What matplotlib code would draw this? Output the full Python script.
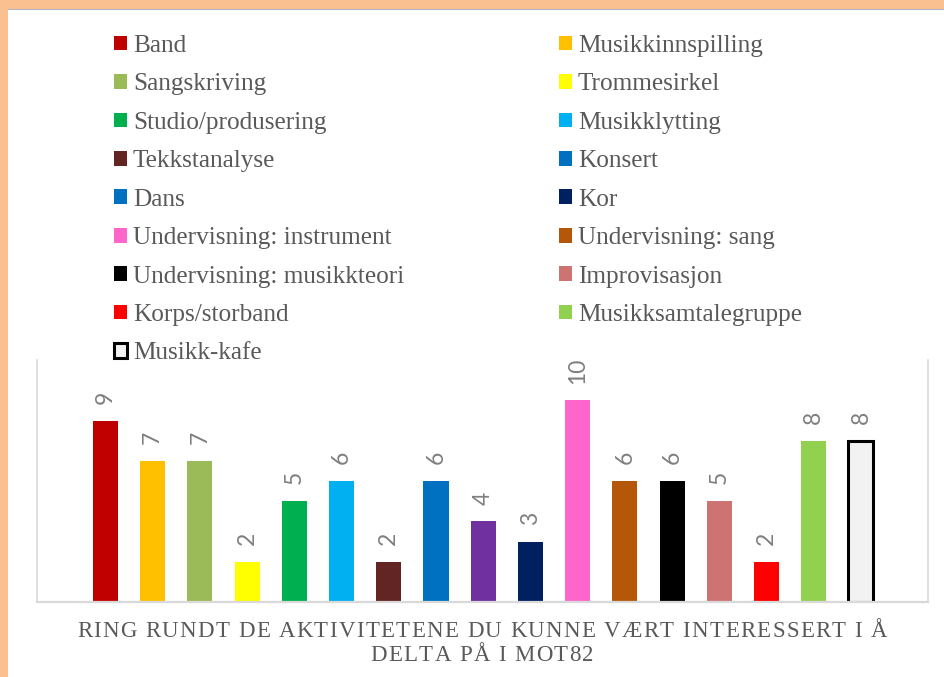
import matplotlib
matplotlib.use("Agg")
import matplotlib.pyplot as plt
from matplotlib.patches import Patch, Rectangle
from matplotlib.font_manager import FontProperties

# data
categories = ["Band", "Musikkinnspilling", "Sangskriving", "Trommesirkel",
              "Studio/produsering", "Musikklytting", "Tekkstanalyse", "Konsert",
              "Dans", "Kor", "Undervisning: instrument", "Undervisning: sang",
              "Undervisning: musikkteori", "Improvisasjon", "Korps/storband",
              "Musikksamtalegruppe", "Musikk-kafe"]
values = [9, 7, 7, 2, 5, 6, 2, 6, 4, 3, 10, 6, 6, 5, 2, 8, 8]
bar_colors = ["#C00000", "#FFC000", "#9BBB59", "#FFFF00", "#00B050", "#00B0F0",
              "#632523", "#0070C0", "#7030A0", "#002060", "#FF66CC", "#B45709",
              "#000000", "#CD7371", "#FF0000", "#92D050", "#F2F2F2"]
# the legend in the original shows Dans in blue, not purple
legend_colors = bar_colors[:8] + ["#0070C0"] + bar_colors[9:]
title_lines = ["RING RUNDT DE AKTIVITETENE DU KUNNE VÆRT INTERESSERT I Å",
               "DELTA PÅ I MOT82"]

W, H = 944, 677
TEXT_GREY = "#595959"
LABEL_GREY = "#7F7F7F"
FRAME = "#FAC090"


def px_x(v):
    return v / W


def px_y(v):
    return 1 - v / H


fig = plt.figure(figsize=(W / 100, H / 100), dpi=100, facecolor=FRAME)
# white chart area inside the orange frame
fig.patches.append(Rectangle((px_x(8), 0), 1, px_y(9), transform=fig.transFigure,
                             facecolor="white", edgecolor="none", zorder=-2))
fig.lines.append(plt.Line2D([px_x(8), 1], [px_y(8.5), px_y(8.5)], transform=fig.transFigure,
                            color="#B4B9C8", lw=0.8, zorder=-1))

ax = fig.add_axes([px_x(37), px_y(602), px_x(928) - px_x(37), px_y(360) - px_y(602)])
ax.set_facecolor("white")

x = list(range(len(values)))
edges = ["none"] * (len(values) - 1) + ["black"]
lws = [0] * (len(values) - 1) + [2.2]
bars = ax.bar(x, values, width=0.53, color=bar_colors, edgecolor=edges, linewidth=lws, zorder=2)

for b, v in zip(bars, values):
    ax.annotate(str(v), (b.get_x() + b.get_width() / 2, v), xytext=(0, 12),
                textcoords="offset points", ha="center", va="bottom", rotation=90,
                fontsize=16.5, family="Lato", color=LABEL_GREY)

ax.set_xlim(-1.45, 17.42)
ax.set_ylim(0, 12)
ax.set_xticks([])
ax.set_yticks([])
for side in ["left", "right", "bottom"]:
    ax.spines[side].set_color("#D9D9D9")
    ax.spines[side].set_linewidth(1.2)
ax.spines["bottom"].set_linewidth(1.6)
ax.spines["top"].set_visible(False)

# legend: two columns, row-major like the original
leg_font = FontProperties(family="Liberation Serif", size=18.2)
fs_px = 18.2 * 100 / 72


def make_handle(i):
    if i == len(categories) - 1:
        return Patch(facecolor=legend_colors[i], edgecolor="black", linewidth=2.2)
    return Patch(facecolor=legend_colors[i], edgecolor="none")


for col, x0 in [(0, 114), (1, 559)]:
    idx = list(range(col, len(categories), 2))
    leg = fig.legend([make_handle(i) for i in idx], [categories[i] for i in idx],
                     loc="upper left", bbox_to_anchor=(px_x(x0), px_y(35)),
                     bbox_transform=fig.transFigure, frameon=False, borderpad=0,
                     borderaxespad=0, handlelength=13 / fs_px, handleheight=13 / fs_px,
                     handletextpad=6 / fs_px, labelspacing=0.65, prop=leg_font,
                     labelcolor=TEXT_GREY)

# category title, drawn letter by letter to get the wide tracking
title_font = FontProperties(family="Liberation Serif", size=16.5)
renderer = fig.canvas.get_renderer()
tracking = 1.35
for line, base in zip(title_lines, [637, 661]):
    widths = [renderer.get_text_width_height_descent(ch, title_font, ismath=False)[0]
              for ch in line]
    total = sum(widths) + tracking * (len(line) - 1)
    pos = 482 - total / 2
    for ch, w in zip(line, widths):
        fig.text(px_x(pos), px_y(base), ch, fontproperties=title_font,
                 color=TEXT_GREY, ha="left", va="baseline")
        pos += w + tracking

fig.savefig("out.png", dpi=100, facecolor=FRAME)
